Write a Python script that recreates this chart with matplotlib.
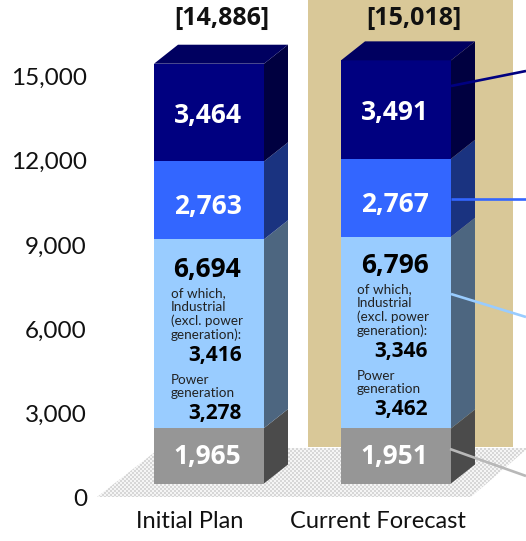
import numpy as np
import matplotlib
matplotlib.use("Agg")
import matplotlib.pyplot as plt
from matplotlib.patches import Polygon, Rectangle

plt.rcParams['font.family'] = ['Lato', 'DejaVu Sans']
BOLD = ['Open Sans', 'DejaVu Sans']

# Chart data
categories = ["Initial Plan", "Current Forecast"]
totals = ["[14,886]", "[15,018]"]
grey_values = [1965, 1951]
light_values = [6694, 6796]
blue_values = [2763, 2767]
navy_values = [3464, 3491]
industrial_values = [3416, 3346]
power_values = [3278, 3462]
y_ticks = [0, 3000, 6000, 9000, 12000, 15000]

series = [grey_values, light_values, blue_values, navy_values]
front_colors = ["#969696", "#99CCFF", "#3366FF", "#000080"]
side_colors = ["#4B4B4B", "#4D6680", "#1A3380", "#000040"]
top_color = "#000060"

W, H = 526, 541
fig = plt.figure(figsize=(W / 100, H / 100), dpi=100)

# Main axes spans the figure: y is in chart units, x in category positions.
Y_SCALE = 0.0282      # pixels per unit
BASE_PX = 483.5       # pixel row of value 0 on the bar fronts
X0_PX, X_STEP = 209.0, 187.0
BAR_W = 110 / X_STEP
DX = 24 / X_STEP      # depth of the bars
DY = 19 / Y_SCALE

ax = fig.add_axes([0, 0, 1, 1])
x_limits = (-X0_PX / X_STEP, (W - X0_PX) / X_STEP)
y_limits = (-(H - BASE_PX) / Y_SCALE, BASE_PX / Y_SCALE)
ax.axis("off")


def to_x(px):
    return (px - X0_PX) / X_STEP


def to_y(py):
    return (BASE_PX - py) / Y_SCALE


# Highlight panel behind the forecast column
ax.add_patch(Rectangle((to_x(308), to_y(447)), (513 - 308) / X_STEP, to_y(0) - to_y(447),
                       facecolor="#D9C898", edgecolor="none", zorder=1))

# Dotted floor: a fine checker pattern clipped to the parallelogram
floor_px = [(97, 497), (471, 497), (528, 448), (160, 448)]
floor = Polygon([(to_x(a), to_y(b)) for a, b in floor_px], closed=True,
                facecolor="none", edgecolor="none", transform=ax.transData)
ax.add_patch(floor)
yy, xx = np.mgrid[0:H, 0:W]
checker = np.where((xx // 2 + yy // 2) % 2 == 0, 0.84, 0.96)
img = ax.imshow(checker, cmap="gray", vmin=0, vmax=1, interpolation="nearest", aspect="auto",
                extent=[x_limits[0], x_limits[1], y_limits[0], y_limits[1]], zorder=1)
img.set_clip_path(floor)
ax.set_xlim(*x_limits)
ax.set_ylim(*y_limits)

LABEL_DX = -1.5 / X_STEP
LABEL_DROP = 2.5 / Y_SCALE   # small downward nudge of the centred labels

# Stacked 3D columns
for i in range(len(categories)):
    left = i - BAR_W / 2
    right = i + BAR_W / 2
    bottom = 0
    for vals, fc, sc in zip(series, front_colors, side_colors):
        v = vals[i]
        ax.bar(i, v, width=BAR_W, bottom=bottom, color=fc, zorder=3)
        ax.add_patch(Polygon([(right, bottom), (right + DX, bottom + DY),
                              (right + DX, bottom + v + DY), (right, bottom + v)],
                             closed=True, facecolor=sc, edgecolor="none", zorder=3))
        bottom += v
    ax.add_patch(Polygon([(left, bottom), (left + DX, bottom + DY),
                          (right + DX, bottom + DY), (right, bottom)],
                         closed=True, facecolor=top_color, edgecolor="none", zorder=3))

    # Value labels on the segments
    cx = i + LABEL_DX
    ax.text(cx, grey_values[i] / 2 - LABEL_DROP / 2.5, f"{grey_values[i]:,}", color="white",
            fontsize=19, family=BOLD, fontweight="bold", ha="center", va="center", zorder=5)
    seg = grey_values[i] + light_values[i]
    ax.text(cx, seg + blue_values[i] / 2 - 140 - LABEL_DROP, f"{blue_values[i]:,}", color="white",
            fontsize=19, family=BOLD, fontweight="bold", ha="center", va="center", zorder=5)
    seg += blue_values[i]
    ax.text(cx, seg + navy_values[i] / 2 - LABEL_DROP, f"{navy_values[i]:,}", color="white",
            fontsize=19, family=BOLD, fontweight="bold", ha="center", va="center", zorder=5)

# Column totals above the bars
for x_px, text in zip([222, 414], totals):
    ax.text(to_x(x_px), to_y(18), text, color="#111111", fontsize=18, family=BOLD,
            fontweight="bold", ha="center", va="center", zorder=5)

# Breakdown of the light segment
total_centers = [(206.5, 269), (395, 266)]
note_left = [171, 357]
note_top = [287, 283]
power_top = [373.5, 369.5]
part_right = [242, 428]
industrial_rows = [356, 352]
power_rows = [414, 409]
for i in range(2):
    ax.text(to_x(total_centers[i][0]), to_y(total_centers[i][1]), f"{light_values[i]:,}",
            color="black", fontsize=19, family=BOLD, fontweight="bold",
            ha="center", va="center", zorder=5)
    ax.text(to_x(note_left[i]), to_y(note_top[i]),
            "of which,\nIndustrial\n(excl. power\ngeneration):", fontsize=9.7, color="#222222",
            ha="left", va="top", linespacing=1.16, zorder=5)
    ax.text(to_x(part_right[i]), to_y(industrial_rows[i]), f"{industrial_values[i]:,}",
            fontsize=15, family=BOLD, fontweight="bold", ha="right", va="center", zorder=5)
    ax.text(to_x(note_left[i]), to_y(power_top[i]), "Power\ngeneration", fontsize=9.7,
            color="#222222", ha="left", va="top", linespacing=1.16, zorder=5)
    ax.text(to_x(part_right[i]), to_y(power_rows[i]), f"{power_values[i]:,}",
            fontsize=15, family=BOLD, fontweight="bold", ha="right", va="center", zorder=5)

# Category labels
for x_px, name in zip([189.5, 377.5], categories):
    ax.text(to_x(x_px), to_y(521), name, fontsize=17, color="#111111", ha="center", va="center")

# Leader lines running off the right edge
leaders = [((451, 86), (526, 71), "#000080"),
           ((451, 199), (526, 199), "#3366FF"),
           ((451, 294), (526, 317), "#99CCFF"),
           ((450, 449), (526, 476), "#B8B8B8")]
for (x1, y1), (x2, y2), c in leaders:
    ax.plot([to_x(x1), to_x(x2)], [to_y(y1), to_y(y2)], color=c, lw=1.9, zorder=6,
            solid_capstyle="butt")

# Value axis with its own scale: only the tick labels are visible.
AX_ZERO_PX, AX_SCALE = 497.5, 0.02807
scale_ax = fig.add_axes([87 / W, 0, 1 / W, 1])
scale_ax.set_ylim(-(H - AX_ZERO_PX) / AX_SCALE, AX_ZERO_PX / AX_SCALE)
scale_ax.patch.set_alpha(0)
for s in scale_ax.spines.values():
    s.set_visible(False)
scale_ax.set_xticks([])
scale_ax.set_yticks(y_ticks)
scale_ax.set_yticklabels([f"{t:,}" for t in y_ticks], fontsize=17.5, color="#111111")
scale_ax.tick_params(axis="y", length=0, pad=0)

fig.savefig("out.png", dpi=100)
